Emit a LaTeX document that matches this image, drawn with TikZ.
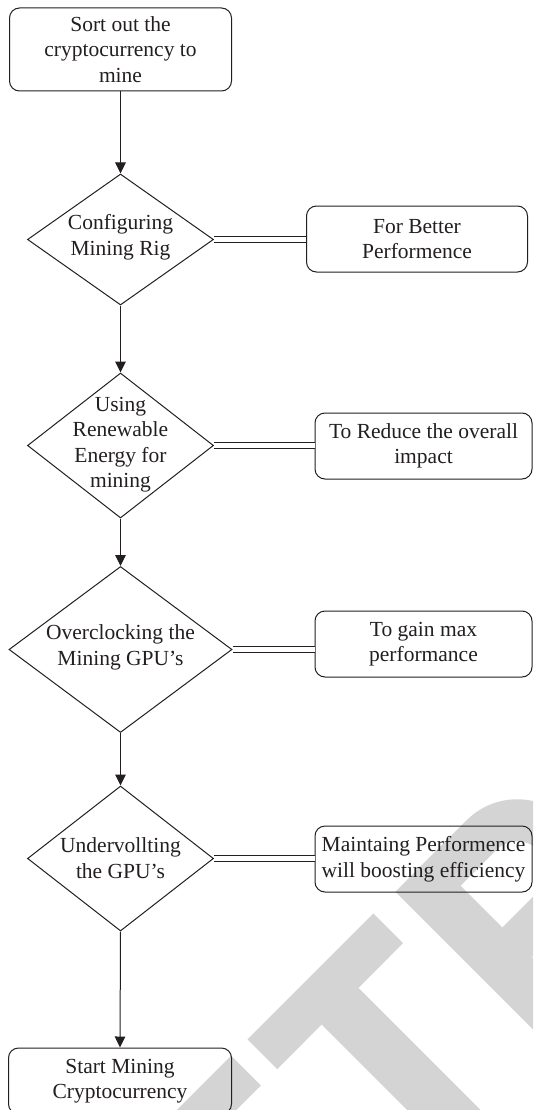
\documentclass[tikz,border=0pt]{standalone}
\usepackage{fontspec}
\setmainfont{Liberation Serif}
\usetikzlibrary{shapes.geometric,arrows.meta}
\definecolor{ink}{HTML}{231F20}
\definecolor{wmgrey}{HTML}{D4D4D4}
\tikzset{
  stepbox/.style={draw=ink, line width=1pt, rounded corners=10pt, align=center,
    inner sep=0pt, text=ink, font=\fontsize{21.5}{25.5}\selectfont},
  decision/.style={draw=ink, diamond, line width=1pt, inner sep=0pt},
  dtext/.style={align=center, inner sep=0pt, text=ink, font=\fontsize{21.5}{25.5}\selectfont},
  flow/.style={draw=ink, line width=1pt, -{Triangle[length=11pt,width=10.5pt]}},
  link/.style={draw=ink, line width=1pt, double=white, double distance=5pt},
  wm/.style={fill=wmgrey, draw=none}
}
\begin{document}
\begin{tikzpicture}[x=1pt,y=1pt]
\useasboundingbox (0,0) rectangle (533,-1110);
\begin{scope}
\clip (0,0) rectangle (533,-1110);
\fill[white] (0,0) rectangle (533,-1110);

% background stamp letters (E, T, R), tilted by 45 degrees
\fill[wm] (231.2,-1055.7) -- (260.9,-1085.4) -- (178.2,-1168.2) -- (148.5,-1138.5) -- cycle;
\fill[wm] (247.5,-1039.4) -- (373.3,-913.5) -- (403.0,-943.2) -- (358.5,-987.8)
  -- (498.5,-1127.8) -- (461.7,-1164.6) -- (321.7,-1024.5) -- (277.2,-1069.1) -- cycle;
\fill[wm, even odd rule]
  (395.3,-891.7) -- (466.7,-820.2) arc[start angle=135, end angle=-45, radius=71.5]
  -- (532.1,-957.1) -- (600.7,-1025.7) -- (565.0,-1061.4) -- cycle
  (460.7,-885.7) -- (496.4,-849.9) arc[start angle=135, end angle=-45, radius=29.5]
  -- (502.4,-927.4) -- cycle;

% main column
\node[stepbox, minimum width=222pt, minimum height=83pt] (start) at (120.5,-49.5)
  {Sort out the\\cryptocurrency to\\mine};
\node[decision, minimum width=186pt, minimum height=131pt] (d1) at (120.5,-239.5) {};
\node[dtext] (d1t) at (120.5,-237.5) {Configuring\\Mining Rig};
\node[decision, minimum width=186pt, minimum height=145pt] (d2) at (120.5,-445.5) {};
\node[dtext] (d2t) at (120.5,-444.5) {Using\\Renewable\\Energy for\\mining};
\node[decision, minimum width=223pt, minimum height=166pt] (d3) at (120.5,-649.5) {};
\node[dtext] (d3t) at (120.5,-647.5) {Overclocking the\\Mining GPU’s};
\node[decision, minimum width=186pt, minimum height=145pt] (d4) at (120.5,-858.5) {};
\node[dtext] (d4t) at (120.5,-858) {Undervollting\\the GPU’s};
\node[stepbox, minimum width=223pt, minimum height=66pt] (finish) at (120,-1081)
  {Start Mining\\Cryptocurrency};

% side notes
\node[stepbox, minimum width=221pt, minimum height=66pt] (b1) at (417,-239)
  {For Better\\Performence};
\node[stepbox, minimum width=217pt, minimum height=66pt] (b2) at (423.5,-446)
  {To Reduce the overall\\impact};
\node[stepbox, minimum width=217pt, minimum height=66pt] (b3) at (423.5,-644)
  {To gain max\\performance};
\node[stepbox, minimum width=217pt, minimum height=66pt] (b4) at (423.5,-859)
  {Maintaing Performence\\will boosting efficiency};

% arrows down the column
\draw[flow] (start.south) -- (d1.north);
\draw[flow] (d1.south) -- (d2.north);
\draw[flow] (d2.south) -- (d3.north);
\draw[flow] (d3.south) -- (d4.north);
\draw[flow] (d4.south) -- (finish.north);

% double links to the notes
\draw[link] (d1.east) -- (b1.west |- d1.east);
\draw[link] (d2.east) -- (b2.west |- d2.east);
\draw[link] (d3.east) -- (b3.west |- d3.east);
\draw[link] (d4.east) -- (b4.west |- d4.east);
\end{scope}
\end{tikzpicture}
\end{document}
